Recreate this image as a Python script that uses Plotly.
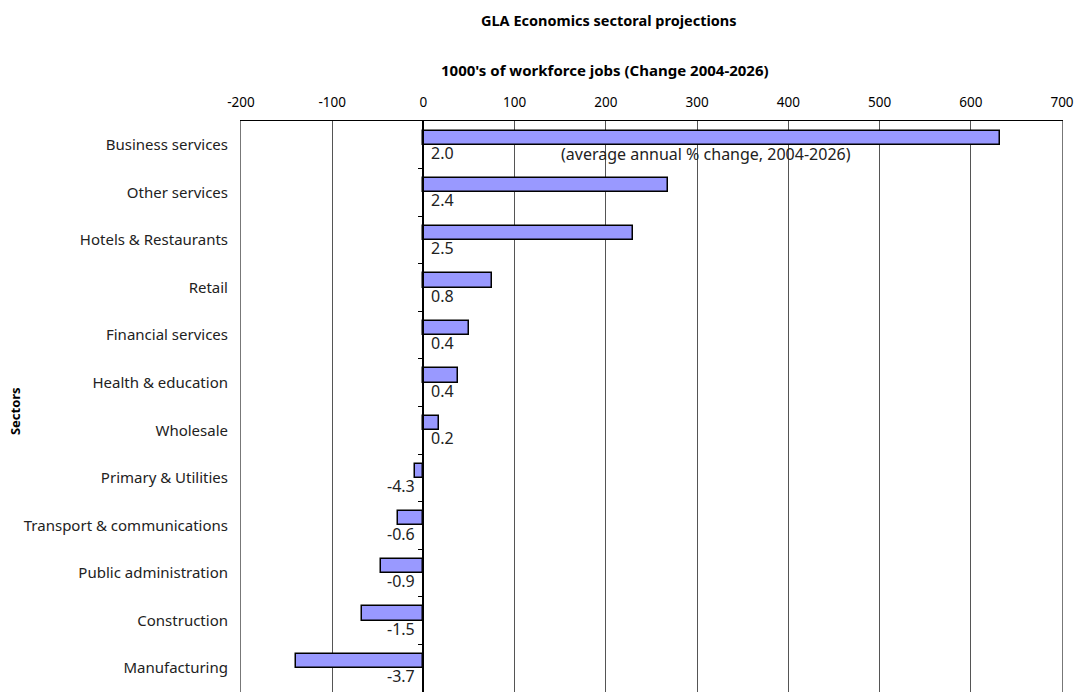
import plotly.graph_objects as go

sectors = ["Business services", "Other services", "Hotels & Restaurants", "Retail",
           "Financial services", "Health & education", "Wholesale", "Primary & Utilities",
           "Transport & communications", "Public administration", "Construction", "Manufacturing"]
job_change = [632, 268, 230, 75, 50, 38, 17, -9, -28, -47, -67, -140]
annual_pct = ["2.0", "2.4", "2.5", "0.8", "0.4", "0.4", "0.2", "-4.3", "-0.6", "-0.9", "-1.5", "-3.7"]
x_ticks = [-200, -100, 0, 100, 200, 300, 400, 500, 600, 700]
x_tick_labels = ["-200", "-100", "0", "100", "200", "300", "400", "500", "600", "700"]

FONT = "Noto Sans"
pos = list(range(len(sectors)))

fig = go.Figure()
fig.add_trace(go.Bar(
    x=job_change, y=pos, orientation="h",
    width=0.3, offset=-0.3,
    marker=dict(color="#9999FF", line=dict(color="black", width=1.5)),
    showlegend=False, hoverinfo="x+y",
))

annotations = []
for i, (v, lab) in enumerate(zip(job_change, annual_pct)):
    annotations.append(dict(
        x=0, y=i + 0.17, xref="x", yref="y", text=lab, showarrow=False,
        xanchor="left" if v >= 0 else "right", xshift=6 if v >= 0 else -6,
        font=dict(family=FONT, size=16, color="#222"),
    ))

annotations += [
    dict(x=310, y=0.2, xref="x", yref="y", text="(average annual % change, 2004-2026)",
         showarrow=False, xanchor="center", font=dict(family=FONT, size=16, color="#222")),
    dict(x=(611 - 241) / 825, y=1 + (121 - 20) / 571, xref="paper", yref="paper",
         text="<b>GLA Economics sectoral projections</b>", showarrow=False,
         xanchor="center", yanchor="middle", font=dict(family=FONT, size=14.5, color="black")),
    dict(x=(607 - 241) / 825, y=1 + (121 - 70) / 571, xref="paper", yref="paper",
         text="<b>1000's of workforce jobs (Change 2004-2026)</b>", showarrow=False,
         xanchor="center", yanchor="middle", font=dict(family=FONT, size=15, color="black")),
    dict(x=-(241 - 14) / 825, y=(692 - 411) / 571, xref="paper", yref="paper",
         text="<b>Sectors</b>", showarrow=False, textangle=-90,
         xanchor="center", yanchor="middle", font=dict(family=FONT, size=13, color="black")),
]

fig.update_layout(
    width=1078, height=696,
    margin=dict(l=241, r=12, t=121, b=4),
    paper_bgcolor="white", plot_bgcolor="white",
    font=dict(family=FONT, color="black"),
    bargap=0,
    annotations=annotations,
    xaxis=dict(
        side="top", range=[-200, 700], tickmode="array", tickvals=x_ticks, ticktext=x_tick_labels,
        showgrid=True, gridcolor="#555", gridwidth=1,
        zeroline=False, showline=True, linecolor="black", linewidth=1, mirror=False,
        ticks="", ticklabelstandoff=8,
        tickfont=dict(family=FONT, size=13.5, color="black"),
        domain=[0, 1],
    ),
    yaxis=dict(
        range=[11.5, -0.5], tickmode="array", tickvals=pos, ticktext=sectors,
        showgrid=False, zeroline=False, showline=True, linecolor="#777", linewidth=1,
        mirror=True, ticks="",
        ticklabelstandoff=9,
        tickfont=dict(family=FONT, size=15, color="#222"),
    ),
    yaxis2=dict(
        overlaying="y", anchor="free", position=200 / 900, side="left",
        range=[11.5, -0.5], tickmode="array", tickvals=[p + 0.5 for p in pos[:-1]],
        ticks="outside", ticklen=5, tickcolor="black", showticklabels=False,
        showline=True, linecolor="black", linewidth=1.5, showgrid=False, zeroline=False,
    ),
)
fig.add_trace(go.Scatter(x=[None], y=[None], yaxis="y2", showlegend=False, hoverinfo="skip"))

fig.write_html("out.html")
